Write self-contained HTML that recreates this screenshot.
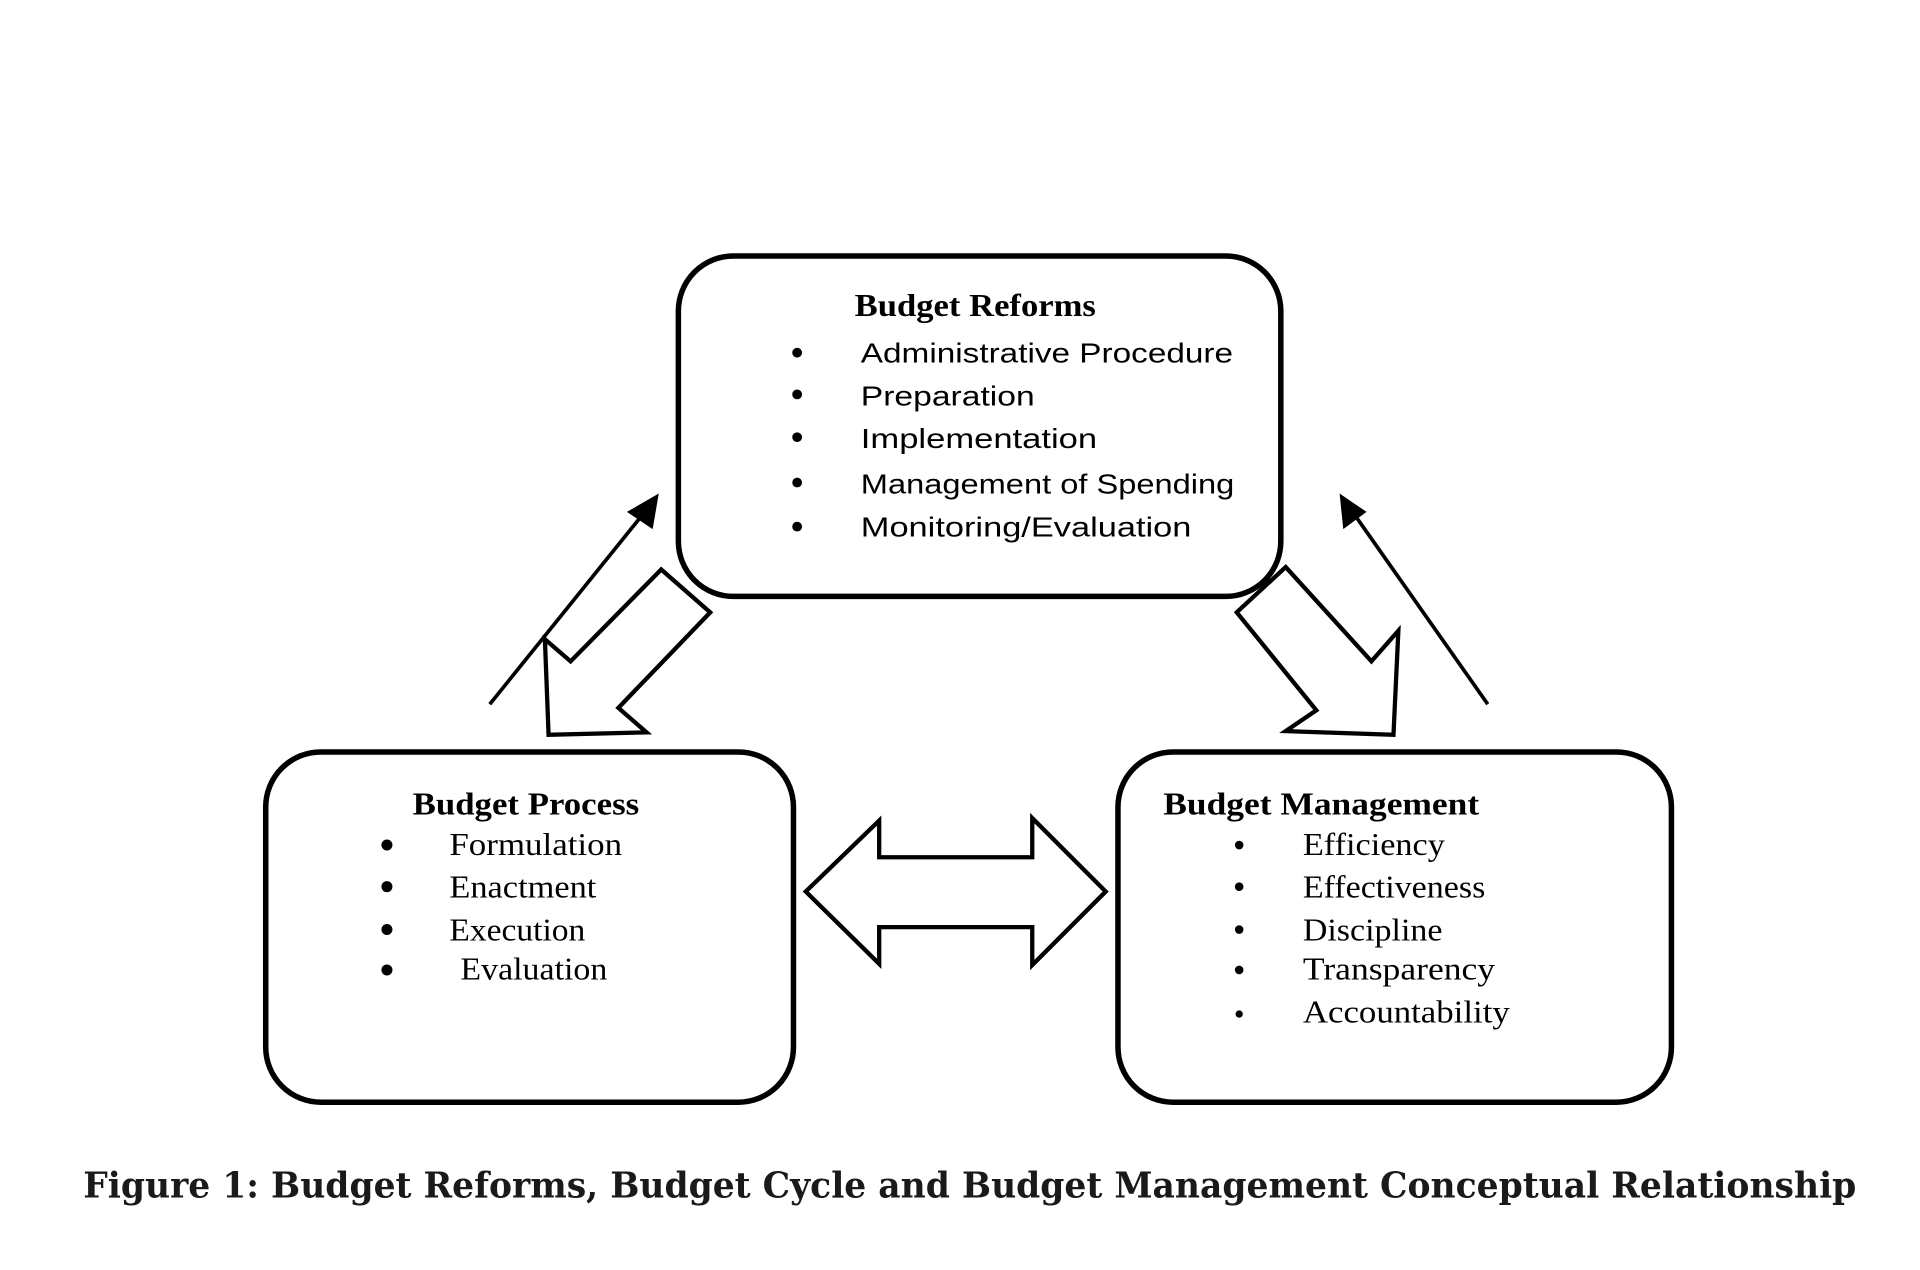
<!DOCTYPE html>
<html><head><style>html,body{margin:0;padding:0;background:#fff}svg{display:block}</style></head><body>
<svg width="1920" height="1270" viewBox="0 0 1568 1037" preserveAspectRatio="none" xmlns="http://www.w3.org/2000/svg">
<rect width="1568" height="1037" fill="#fff"/>
<g fill="none" stroke="#000" stroke-width="4.5">
<rect x="554" y="209" width="492" height="278" rx="45"/>
<rect x="217" y="614" width="431" height="286" rx="45"/>
<rect x="913" y="614" width="452" height="286" rx="45"/>
<polygon stroke-width="3.5" points="540,465 580,500 505,578 528,598 448,600 445,522 466,540"/>
<polygon stroke-width="3.5" points="1050,463 1010,500 1075,580 1050,597 1138,600 1142,515 1120,540"/>
<polygon stroke-width="3.5" points="658,728 718,670 718,700 843,700 843,668 903,728 843,788 843,757 718,757 718,787"/>
<line x1="400" y1="575" x2="533" y2="410" stroke-width="3"/>
<line x1="1215" y1="575" x2="1099" y2="410" stroke-width="3"/>
</g>
<polygon points="538,403 533,432 512,418" fill="#000"/>
<polygon points="1094,403 1116,418 1097,432" fill="#000"/>
<g font-family="Liberation Serif, serif" font-size="26" font-weight="bold" lengthAdjust="spacingAndGlyphs">
<text x="698" y="258" textLength="197" lengthAdjust="spacingAndGlyphs">Budget Reforms</text>
<text x="337" y="665" textLength="185" lengthAdjust="spacingAndGlyphs">Budget Process</text>
<text x="950" y="665" textLength="258" lengthAdjust="spacingAndGlyphs">Budget Management</text>
</g>
<g font-family="Liberation Sans, sans-serif" font-size="23">
<text x="703" y="296" textLength="304" lengthAdjust="spacingAndGlyphs">Administrative Procedure</text>
<text x="703" y="331" textLength="142" lengthAdjust="spacingAndGlyphs">Preparation</text>
<text x="703" y="366" textLength="193" lengthAdjust="spacingAndGlyphs">Implementation</text>
<text x="703" y="403" textLength="305" lengthAdjust="spacingAndGlyphs">Management of Spending</text>
<text x="703" y="438" textLength="270" lengthAdjust="spacingAndGlyphs">Monitoring/Evaluation</text>
</g>
<g font-family="Liberation Serif, serif" font-size="26">
<text x="367" y="698" textLength="141" lengthAdjust="spacingAndGlyphs">Formulation</text>
<text x="367" y="733" textLength="120" lengthAdjust="spacingAndGlyphs">Enactment</text>
<text x="367" y="768" textLength="111" lengthAdjust="spacingAndGlyphs">Execution</text>
<text x="376" y="800" textLength="120" lengthAdjust="spacingAndGlyphs">Evaluation</text>
<text x="1064" y="698" textLength="116" lengthAdjust="spacingAndGlyphs">Efficiency</text>
<text x="1064" y="733" textLength="149" lengthAdjust="spacingAndGlyphs">Effectiveness</text>
<text x="1064" y="768" textLength="114" lengthAdjust="spacingAndGlyphs">Discipline</text>
<text x="1064" y="800" textLength="157" lengthAdjust="spacingAndGlyphs">Transparency</text>
<text x="1064" y="835" textLength="169" lengthAdjust="spacingAndGlyphs">Accountability</text>
</g>
<g fill="#000">
<circle cx="651" cy="288" r="4"/><circle cx="651" cy="322" r="4"/><circle cx="651" cy="357" r="4"/><circle cx="651" cy="394" r="4"/><circle cx="651" cy="430" r="4"/>
<circle cx="316" cy="690" r="4.5"/><circle cx="316" cy="724" r="4.5"/><circle cx="316" cy="759" r="4.5"/><circle cx="316" cy="792" r="4.5"/>
<circle cx="1012" cy="690" r="3.5"/><circle cx="1012" cy="724" r="3.5"/><circle cx="1012" cy="759" r="3.5"/><circle cx="1012" cy="792" r="3.5"/><circle cx="1012" cy="828" r="3"/>
</g>
<text x="792" y="978" text-anchor="middle" font-family="DejaVu Serif, serif" font-size="29" font-weight="bold" fill="#1a1a1a" textLength="1448" lengthAdjust="spacingAndGlyphs">Figure 1: Budget Reforms, Budget Cycle and Budget Management Conceptual Relationship</text>
</svg>
</body></html>
